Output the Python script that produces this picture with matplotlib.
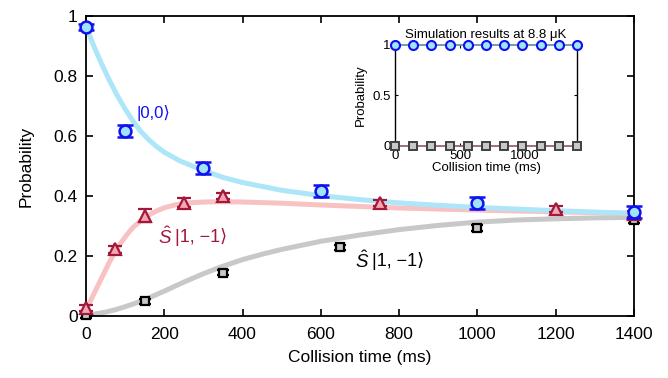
import matplotlib
matplotlib.use("Agg")
import matplotlib.pyplot as plt

plt.rcParams['font.family'] = ['Liberation Sans', 'DejaVu Sans']
plt.rcParams['mathtext.fontset'] = 'custom'
plt.rcParams['mathtext.rm'] = 'Liberation Sans'
plt.rcParams['mathtext.it'] = 'Liberation Sans:italic'

# ---- measured data ----
t00 = [0, 100, 300, 600, 1000, 1400]
p00 = [0.964, 0.618, 0.492, 0.418, 0.378, 0.346]
e00 = [0.010, 0.020, 0.020, 0.020, 0.020, 0.020]

t1m = [0, 75, 150, 250, 350, 750, 1200, 1400]
p1m = [0.028, 0.222, 0.335, 0.377, 0.399, 0.378, 0.356, 0.340]
e1m = [0.010, 0.012, 0.022, 0.015, 0.010, 0.010, 0.010, 0.010]

tS = [0, 150, 350, 650, 1000, 1400]
pS = [0.004, 0.049, 0.144, 0.229, 0.292, 0.320]
eS = [0.010, 0.008, 0.008, 0.008, 0.010, 0.010]

# ---- model curves ----
ct = [0, 20, 40, 60, 80, 100, 120, 140, 160, 180, 200, 240, 300, 350, 400, 500, 600,
      700, 800, 900, 1000, 1200, 1400]
c00 = [0.965, 0.900, 0.840, 0.785, 0.735, 0.690, 0.650, 0.615, 0.588, 0.565, 0.546,
       0.517, 0.485, 0.462, 0.445, 0.419, 0.401, 0.388, 0.377, 0.369, 0.362, 0.351, 0.342]

pt = [0, 15, 30, 45, 60, 75, 90, 105, 120, 140, 160, 180, 200, 230, 260, 300, 350, 400,
      500, 600, 700, 800, 1000, 1200, 1400]
c1m = [0.020, 0.060, 0.100, 0.140, 0.180, 0.215, 0.245, 0.272, 0.295, 0.318, 0.336,
       0.350, 0.361, 0.371, 0.377, 0.380, 0.381, 0.380, 0.376, 0.370, 0.365, 0.360,
       0.353, 0.347, 0.342]

gt = [0, 25, 50, 75, 100, 125, 150, 200, 250, 300, 350, 400, 450, 500, 600, 700, 800,
      900, 1000, 1100, 1200, 1300, 1400]
cS = [0.004, 0.007, 0.013, 0.021, 0.031, 0.042, 0.054, 0.083, 0.113, 0.141, 0.166,
      0.188, 0.206, 0.222, 0.249, 0.270, 0.288, 0.302, 0.313, 0.320, 0.324, 0.327, 0.329]

# ---- inset simulation ----
sim_t = [0, 140, 280, 420, 560, 700, 840, 980, 1120, 1260, 1400]
sim_00 = [1, 1, 1, 1, 1, 1, 1, 1, 1, 1, 1]
sim_1m = [0, 0, 0, 0, 0, 0, 0, 0, 0, 0, 0]
sim_S = [0, 0, 0, 0, 0, 0, 0, 0, 0, 0, 0]

xticks = [0, 200, 400, 600, 800, 1000, 1200, 1400]
yticks = [0, 0.2, 0.4, 0.6, 0.8, 1.0]
yticklabels = ['0', '0.2', '0.4', '0.6', '0.8', '1']

BLUE = '#1010f0'
CYANF = '#9fe4f8'
RED = '#a3173a'
PINKF = '#f4a7b0'

fig = plt.figure(figsize=(6.68, 3.78), dpi=100)
ax = fig.add_axes([0.1287, 0.164, 0.8204, 0.7937])

ax.plot(gt, cS, color='#c8c8c8', lw=3.6, solid_capstyle='butt', zorder=1)
ax.plot(pt, c1m, color='#f9c2c2', lw=3.6, solid_capstyle='butt', zorder=1.1)
ax.plot(ct, c00, color='#ade6f8', lw=3.6, solid_capstyle='butt', zorder=1.2)

ax.errorbar(tS, pS, yerr=eS, fmt='s', ms=5.5, mfc='#c8c8c8', mec='black', mew=1.6,
            ecolor='black', elinewidth=1.5, capsize=4.5, capthick=1.8, zorder=3, clip_on=False)
ax.errorbar(t1m, p1m, yerr=e1m, fmt='^', ms=9, mfc=PINKF, mec=RED, mew=1.6,
            ecolor=RED, elinewidth=1.5, capsize=5, capthick=1.8, zorder=4, clip_on=False)
ax.errorbar(t00, p00, yerr=e00, fmt='o', ms=8.5, mfc=CYANF, mec=BLUE, mew=1.8,
            ecolor=BLUE, elinewidth=1.5, capsize=5.5, capthick=2, zorder=5, clip_on=False)

ax.set_xlim(0, 1400)
ax.set_ylim(0, 1)
ax.set_xticks(xticks)
ax.set_xticklabels([str(v) for v in xticks])
ax.set_yticks(yticks)
ax.set_yticklabels(yticklabels)
ax.tick_params(direction='in', top=True, right=True, length=5, width=1.2,
               labelsize=12.5, pad=6)
ax.tick_params(axis='x', pad=8)
ax.tick_params(labeltop=False, labelright=False)
for s in ax.spines.values():
    s.set_linewidth(1.3)
ax.set_xlabel('Collision time (ms)', fontsize=12.5, labelpad=6)
ax.set_ylabel('Probability', fontsize=12.5, labelpad=14)

ax.text(130, 0.677, '|0,0⟩', color=BLUE, fontsize=12, ha='left', va='center')


def s_label(x, y, color):
    ax.text(x, y, r'$\hat{S}$', color=color, fontsize=13.5, ha='left', va='center')
    ax.annotate('|1, −1⟩', xy=(x, y), xytext=(12, 0), textcoords='offset points',
                color=color, fontsize=13, ha='left', va='center')


s_label(184, 0.262, RED)
s_label(687, 0.182, 'black')

# ---- inset ----
ins = fig.add_axes([0.5913, 0.6138, 0.2725, 0.2672])
ins.patch.set_alpha(0)
ins.plot(sim_t, sim_S, color='#8a5a60', lw=1.2, zorder=2, clip_on=False)
ins.plot(sim_t, sim_1m, '^', ms=3, color=RED, zorder=2.5, clip_on=False)
ins.plot(sim_t, sim_S, 's', ms=6, mfc='#c8c8c8', mec='#404040', mew=1.4, zorder=3, clip_on=False)
ins.plot(sim_t, sim_00, '-', color='#5a8ca0', lw=1.2, zorder=2, clip_on=False)
ins.plot(sim_t, sim_00, 'o', ms=6.5, mfc=CYANF, mec=BLUE, mew=1.5, zorder=3, clip_on=False)
ins.set_xlim(0, 1400)
ins.set_ylim(0, 1)
ins.set_xticks([0, 500, 1000])
ins.set_yticks([0, 0.5, 1])
ins.set_yticklabels(['0', '0.5', '1'])
ins.tick_params(direction='in', top=True, right=True, length=2.5, width=0.8,
                labelsize=9.5, pad=3)
ins.spines['top'].set_visible(False)
ins.spines['bottom'].set_visible(False)
for s in ['left', 'right']:
    ins.spines[s].set_linewidth(1.0)
ins.set_xlabel('Collision time (ms)', fontsize=9.5, labelpad=0)
ins.set_ylabel('Probability', fontsize=9.5, labelpad=4)
ins.set_title('Simulation results at 8.8 μK', fontsize=9.5, pad=5)

fig.savefig('out.png', dpi=100)
